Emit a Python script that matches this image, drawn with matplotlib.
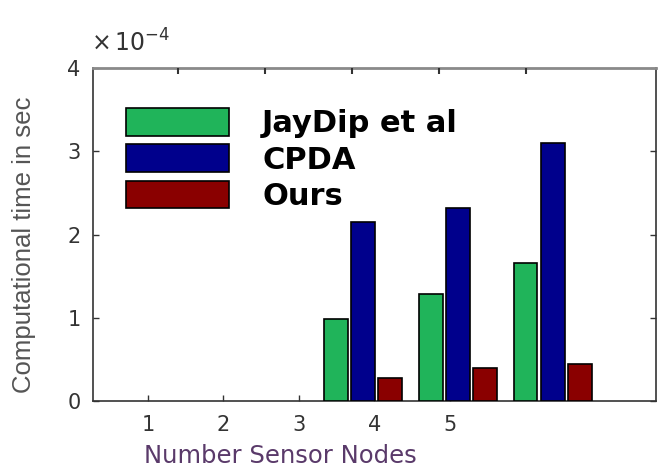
import matplotlib.pyplot as plt
import numpy as np

# data (values in units of 1e-4 s)
nodes = [3, 4, 5]
jaydip = [0.98, 1.29, 1.66]
cpda = [2.15, 2.32, 3.10]
ours = [0.28, 0.40, 0.44]
series_names = ['JayDip et al', 'CPDA', 'Ours']
x_ticks = [1, 2, 3, 4, 5]
y_ticks = [0, 1, 2, 3, 4]

COLOR_GREEN = '#20b45a'
COLOR_BLUE = '#00008c'
COLOR_RED = '#8a0000'
COLOR_SPINE = '#333333'

plt.rcParams['font.family'] = ['DejaVu Sans']

fig = plt.figure(figsize=(6.58, 4.70), dpi=100)
ax = fig.add_axes([0.1413, 0.1468, 0.856, 0.7085])

# axis carrying the bottom tick labels
ax.set_xlim(0.27, 7.74)
ax.set_ylim(0, 4)
ax.set_xticks(x_ticks)
ax.set_yticks(y_ticks)
ax.tick_params(direction='in', length=4, width=1, labelsize=15,
               colors=COLOR_SPINE, right=True, pad=9)
ax.tick_params(axis='x', pad=10)
for s in ax.spines.values():
    s.set_color(COLOR_SPINE)
    s.set_linewidth(1.2)
ax.spines['top'].set_color('#8a8a8a')
ax.spines['top'].set_linewidth(2)

# separate axis for the top tick marks
ax_top = ax.twiny()
ax_top.set_xlim(0.026, 6.49)
ax_top.set_xticks(x_ticks)
ax_top.set_xticklabels([])
ax_top.tick_params(direction='in', length=4, width=1.5, colors=COLOR_SPINE)
for s in ax_top.spines.values():
    s.set_visible(False)

# bar axis
ax_bar = ax.twiny()
ax_bar.set_xlim(0.16, 6.09)
ax_bar.set_ylim(0, 4)
ax_bar.set_xticks([])
for s in ax_bar.spines.values():
    s.set_visible(False)

x = np.array(nodes, dtype=float)
w = 0.25
gap = 0.285
for off, vals, col, name in zip([-gap, 0, gap], [jaydip, cpda, ours],
                                [COLOR_GREEN, COLOR_BLUE, COLOR_RED], series_names):
    ax_bar.bar(x + off, vals, width=w, color=col, edgecolor='black',
               linewidth=1.2, label=name)

leg = ax_bar.legend(loc='upper left', bbox_to_anchor=(0.009, 0.962), frameon=False,
                    handlelength=3.37, handleheight=1.0, labelspacing=0.2,
                    handletextpad=1.1,
                    prop={'family': 'DejaVu Sans', 'weight': 'bold', 'size': 22})

ax.set_ylabel('Computational time in sec', fontsize=18.5, color='#555555',
              family=['Liberation Sans Narrow', 'Liberation Sans'])
ax.yaxis.set_label_coords(-0.101, 0.47)
ax.set_xlabel('Number Sensor Nodes', fontsize=17.5, color='#5a3a6a')
ax.xaxis.set_label_coords(0.332, -0.13)

fig.text(0.138, 0.89, r'$\times\,10^{-4}$', fontsize=17, color=COLOR_SPINE,
         family='DejaVu Serif')

fig.savefig('out.png', dpi=100)
